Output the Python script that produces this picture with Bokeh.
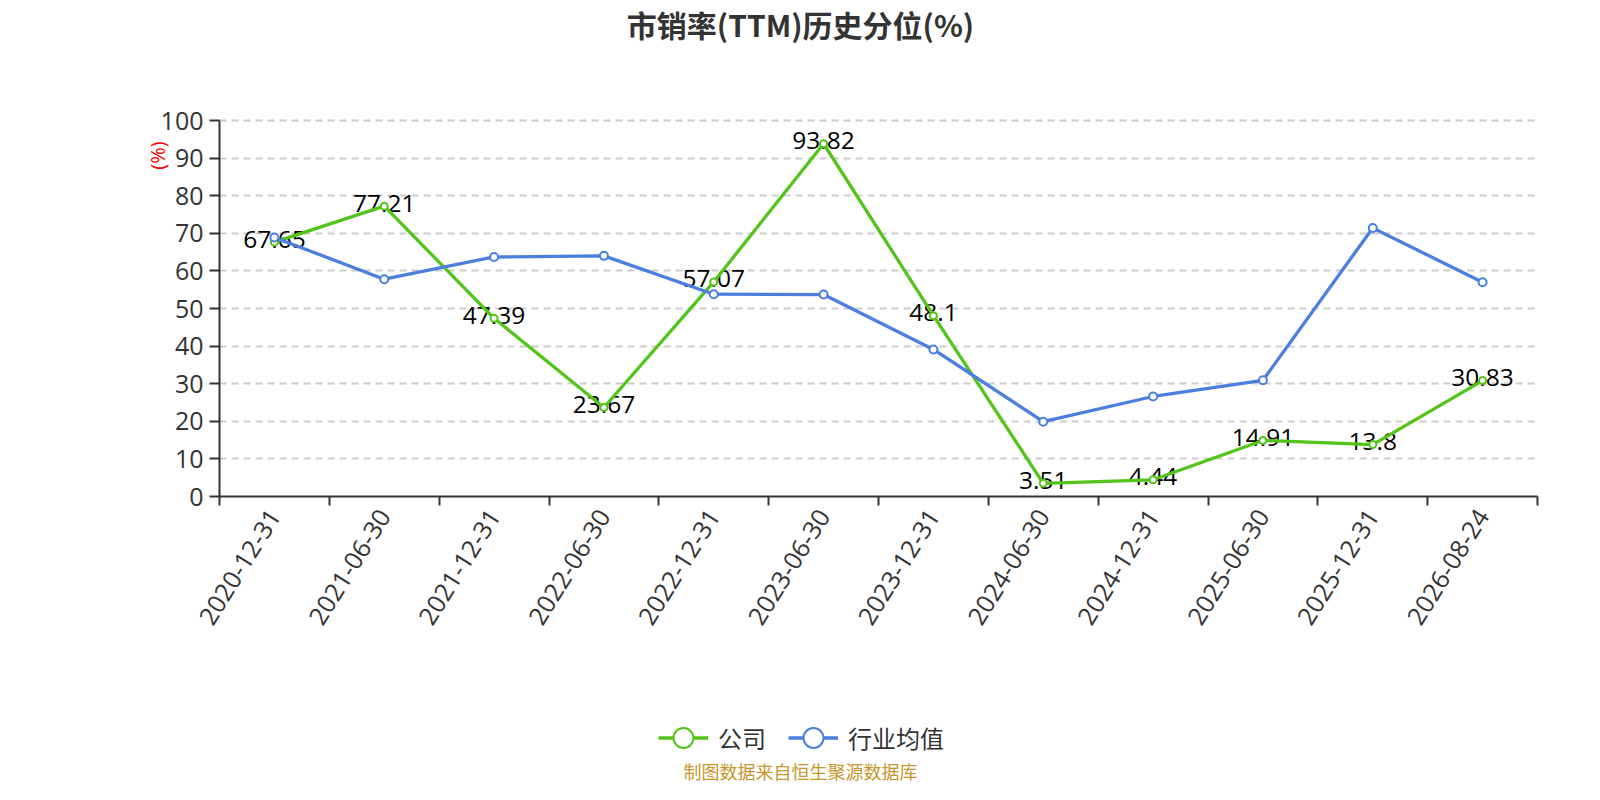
import math
from bokeh.plotting import figure
from bokeh.models import Range1d, FixedTicker, Label, Legend, LegendItem
from bokeh.core.properties import value
from bokeh.embed import file_html
from bokeh.resources import INLINE

dates = ["2020-12-31", "2021-06-30", "2021-12-31", "2022-06-30", "2022-12-31", "2023-06-30",
         "2023-12-31", "2024-06-30", "2024-12-31", "2025-06-30", "2025-12-31", "2026-08-24"]
company = [67.65, 77.21, 47.39, 23.67, 57.07, 93.82, 48.1, 3.51, 4.44, 14.91, 13.8, 30.83]
industry = [68.9, 57.8, 63.7, 64.0, 53.8, 53.7, 39.1, 19.9, 26.6, 30.9, 71.4, 57.0]
y_ticks = [0, 10, 20, 30, 40, 50, 60, 70, 80, 90, 100]
series_names = ["公司", "行业均值"]
title_text = "市销率(TTM)历史分位(%)"
footer_text = "制图数据来自恒生聚源数据库"

GREEN = "#52C41A"
BLUE = "#4A7FE0"
W, H = 1584, 784
# plot area in canvas pixels
PL, PR, PT, PB = 219, 1537, 120, 496
n = len(dates)
YMAX = 100


def dx(px):
    return (px - PL) / (PR - PL) * n


def dy(py):
    return (PB - py) / (PB - PT) * YMAX


xs = [i + 0.5 for i in range(n)]

p = figure(width=W, height=H, output_backend="svg", toolbar_location=None,
           x_range=Range1d(dx(0), dx(W)), y_range=Range1d(dy(H), dy(0)),
           min_border=0, min_border_left=0, min_border_right=0,
           min_border_top=0, min_border_bottom=0,
           background_fill_color="white", border_fill_color="white")
p.title.visible = False
p.outline_line_color = None
p.xgrid.visible = False

grid = p.ygrid[0]
grid.ticker = FixedTicker(ticks=y_ticks[1:])
grid.grid_line_color = "#cccccc"
grid.grid_line_dash = "7 5"
grid.grid_line_width = 1.8
if "cross_bounds" in grid.properties():
    grid.bounds = (0, YMAX)
    grid.cross_bounds = (0, n)
else:
    grid.visible = False
    p.segment(x0=[0] * (len(y_ticks) - 1), x1=[n] * (len(y_ticks) - 1),
              y0=y_ticks[1:], y1=y_ticks[1:], line_color="#cccccc",
              line_dash="7 5", line_width=1.8)

# x axis
xa = p.xaxis[0]
xa.fixed_location = 0
xa.bounds = (0, n)
xa.ticker = FixedTicker(ticks=xs, minor_ticks=list(range(n + 1)))
xa.major_label_overrides = {x: d for x, d in zip(xs, dates)}
xa.major_tick_out = 0
xa.major_tick_in = 0
xa.minor_tick_out = 9
xa.minor_tick_in = 0
xa.minor_tick_line_color = "#333333"
xa.minor_tick_line_width = 2
xa.axis_line_color = "#333333"
xa.axis_line_width = 2
xa.major_label_orientation = math.radians(58)
xa.major_label_standoff = 6
xa.major_label_text_font = "Open Sans"
xa.major_label_text_font_size = "25px"
xa.major_label_text_color = "#333333"

# y axis
ya = p.yaxis[0]
ya.fixed_location = 0
ya.bounds = (0, YMAX)
ya.ticker = FixedTicker(ticks=y_ticks)
ya.major_tick_out = 10
ya.major_tick_in = 0
ya.minor_tick_out = 0
ya.minor_tick_in = 0
ya.major_tick_line_color = "#333333"
ya.major_tick_line_width = 2
ya.axis_line_color = "#333333"
ya.axis_line_width = 2
ya.major_label_standoff = 6
ya.major_label_text_font = "Open Sans"
ya.major_label_text_font_size = "25px"
ya.major_label_text_color = "#333333"

# data labels
p.text(x=xs, y=company, text=[f"{v:g}" for v in company], text_align="center",
       text_baseline="middle", y_offset=-3, text_font=value("Open Sans"),
       text_font_size="24.5px", text_color="black")

g_line = p.line(xs, company, line_color=GREEN, line_width=3.3)
g_pts = p.scatter(xs, company, size=7, fill_color="white", line_color=GREEN, line_width=2)
b_line = p.line(xs, industry, line_color=BLUE, line_width=3.3)
b_pts = p.scatter(xs, industry, size=8, fill_color="white", line_color=BLUE, line_width=2)

legend = Legend(items=[LegendItem(label=series_names[0], renderers=[g_line, g_pts]),
                       LegendItem(label=series_names[1], renderers=[b_line, b_pts])],
                orientation="horizontal", location=(658, 19),
                glyph_width=50, glyph_height=55, label_standoff=10, spacing=22,
                padding=0, margin=0, border_line_color=None, background_fill_alpha=0,
                label_text_font="Noto Sans CJK SC", label_text_font_size="24px",
                label_text_color="#333333")
p.add_layout(legend, "center")

p.add_layout(Label(x=dx(800), y=dy(23), text=title_text, text_align="center",
                   text_baseline="middle", text_font="Noto Sans CJK SC",
                   text_font_size="30px", text_font_style="bold", text_color="#333333"))
p.add_layout(Label(x=dx(157), y=dy(155), text="(%)", angle=math.pi / 2, text_align="center",
                   text_baseline="middle", text_font="Open Sans",
                   text_font_size="20px", text_color="red"))
p.add_layout(Label(x=dx(800), y=dy(770), text=footer_text, text_align="center",
                   text_baseline="middle", text_font="Noto Sans CJK SC",
                   text_font_size="18px", text_color="#C8962A"))

open("out.html", "w").write(file_html(p, INLINE))
